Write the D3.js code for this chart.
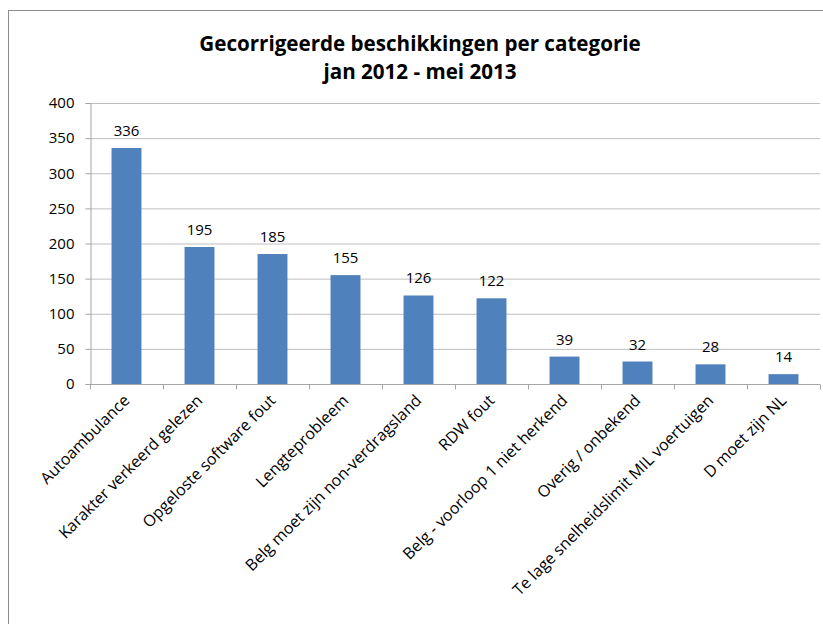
<!DOCTYPE html>
<html>
<head>
<meta charset="utf-8">
<script src="https://cdn.jsdelivr.net/npm/d3@7"></script>
<style>
  body { margin: 0; background: #fff; }
  text { font-family: "Open Sans", Lato, sans-serif; fill: #000; }
</style>
</head>
<body>
<svg width="823" height="624"></svg>
<script>
let categories = ["Autoambulance", "Karakter verkeerd gelezen", "Opgeloste software fout",
  "Lengteprobleem", "Belg moet zijn non-verdragsland", "RDW fout",
  "Belg - voorloop 1 niet herkend", "Overig / onbekend",
  "Te lage snelheidslimit MIL voertuigen", "D moet zijn NL"];
let counts = [336, 195, 185, 155, 126, 122, 39, 32, 28, 14];
let yTicks = [0, 50, 100, 150, 200, 250, 300, 350, 400];
let titleLines = ["Gecorrigeerde beschikkingen per categorie", "jan 2012 - mei 2013"];

let svg = d3.select('svg');

// outer chart frame (cut off by the window on right and bottom)
svg.append('rect')
   .attr('x', 8.5).attr('y', 10.5)
   .attr('width', 900).attr('height', 700)
   .attr('fill', 'none')
   .attr('stroke', '#8c8c8c');

let plotLeft = 90, plotRight = 820, plotTop = 103, plotBottom = 384;

let x = d3.scaleBand().domain(categories).range([plotLeft, plotRight]).paddingInner(0.59).paddingOuter(0.295);
let y = d3.scaleLinear().domain([0, 400]).range([plotBottom, plotTop]);

// gridlines
svg.append('g')
   .selectAll('line')
   .data(yTicks.slice(1))
   .enter()
   .append('line')
   .attr('x1', plotLeft).attr('x2', plotRight)
   .attr('y1', d => y(d) + 0.5).attr('y2', d => y(d) + 0.5)
   .attr('stroke', '#bfbfbf');

// y axis
let yAxis = svg.append('g')
   .attr('transform', `translate(${plotLeft + 0.5},0)`)
   .call(d3.axisLeft(y).tickValues(yTicks).tickSize(5).tickPadding(11));
yAxis.select('.domain').attr('stroke', '#a6a6a6');
yAxis.selectAll('.tick line').attr('stroke', '#a6a6a6');
yAxis.selectAll('text').style('font-size', '15px').attr('fill', '#000')
   .style('font-family', '"Open Sans", sans-serif');

// bars
svg.selectAll('rect.bar')
   .data(counts)
   .enter()
   .append('rect')
   .attr('class', 'bar')
   .attr('x', (d, i) => x(categories[i]))
   .attr('width', x.bandwidth())
   .attr('y', d => y(d))
   .attr('height', d => y(0) - y(d))
   .attr('fill', '#4f81bd');

// value labels
svg.selectAll('text.val')
   .data(counts)
   .enter()
   .append('text')
   .attr('class', 'val')
   .attr('x', (d, i) => x(categories[i]) + x.bandwidth() / 2)
   .attr('y', d => y(d) - 12)
   .attr('text-anchor', 'middle')
   .style('font-size', '15px')
   .text(d => d);

// x axis with ticks between categories
let xAxis = svg.append('g').attr('transform', `translate(0,${plotBottom + 0.5})`);
xAxis.append('line')
   .attr('x1', plotLeft).attr('x2', plotRight)
   .attr('stroke', '#a6a6a6');
let step = x.step();
xAxis.selectAll('line.tk')
   .data(d3.range(categories.length + 1))
   .enter()
   .append('line')
   .attr('class', 'tk')
   .attr('x1', i => plotLeft + i * step + 0.5).attr('x2', i => plotLeft + i * step + 0.5)
   .attr('y1', 0).attr('y2', 5)
   .attr('stroke', '#a6a6a6');

xAxis.selectAll('text')
   .data(categories)
   .enter()
   .append('text')
   .attr('transform', d => `translate(${x(d) + x.bandwidth() / 2 + 4},${17}) rotate(-45)`)
   .attr('text-anchor', 'end')
   .style('font-size', '16px')
   .text(d => d);

// title
svg.selectAll('text.title')
   .data(titleLines)
   .enter()
   .append('text')
   .attr('class', 'title')
   .attr('x', 420)
   .attr('y', (d, i) => 51 + i * 27.5)
   .attr('text-anchor', 'middle')
   .style('font-size', '20.6px')
   .style('font-weight', 'bold')
   .text(d => d);
</script>
</body>
</html>
